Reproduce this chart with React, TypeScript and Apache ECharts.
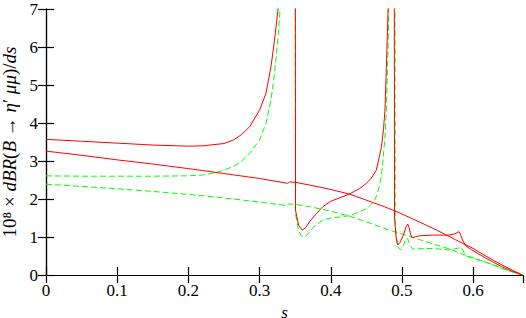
import React, { useEffect, useRef } from "react";
import * as echarts from "echarts";

// Resonant (upper) solid red curve
const resRedS = [0, 0.05, 0.1, 0.15, 0.2, 0.22, 0.25, 0.263, 0.275, 0.286, 0.3, 0.309, 0.316, 0.321, 0.326, 0.332, 0.338, 0.349, 0.3505, 0.355, 0.36, 0.365, 0.37, 0.38, 0.389, 0.4, 0.415, 0.426, 0.44, 0.45, 0.457, 0.464, 0.468, 0.471, 0.474, 0.476, 0.478, 0.4805, 0.484, 0.4885, 0.4895, 0.492, 0.494, 0.497, 0.502, 0.506, 0.508, 0.51, 0.512, 0.514, 0.518, 0.524, 0.543, 0.566, 0.574, 0.578, 0.58, 0.582, 0.585, 0.59, 0.598, 0.608, 0.618, 0.63, 0.64, 0.655, 0.669];
const resRedV = [3.57, 3.52, 3.47, 3.42, 3.39, 3.4, 3.46, 3.55, 3.7, 3.9, 4.34, 4.78, 5.48, 6.18, 7.0, 9, 16, 30, 1.7, 1.3, 1.18, 1.25, 1.4, 1.62, 1.8, 1.94, 2.05, 2.13, 2.27, 2.41, 2.55, 2.76, 3.1, 3.35, 3.82, 4.3, 5.4, 7.0, 12, 30, 1.5, 0.95, 0.79, 0.85, 1.05, 1.28, 1.34, 1.25, 1.08, 0.98, 1.0, 1.03, 1.05, 1.05, 1.08, 1.12, 1.14, 1.08, 0.92, 0.76, 0.66, 0.55, 0.44, 0.32, 0.22, 0.1, 0];

// Resonant (upper) dashed green curve
const resGreenS = [0, 0.05, 0.1, 0.15, 0.2, 0.22, 0.24, 0.263, 0.275, 0.286, 0.3, 0.309, 0.316, 0.321, 0.326, 0.3295, 0.335, 0.349, 0.3505, 0.355, 0.359, 0.363, 0.368, 0.375, 0.389, 0.4, 0.415, 0.426, 0.44, 0.45, 0.456, 0.461, 0.465, 0.468, 0.471, 0.473, 0.476, 0.478, 0.4805, 0.482, 0.485, 0.489, 0.4905, 0.494, 0.498, 0.502, 0.506, 0.508, 0.511, 0.515, 0.524, 0.543, 0.566, 0.578, 0.583, 0.587, 0.59, 0.6, 0.622, 0.646, 0.669];
const resGreenV = [2.61, 2.6, 2.6, 2.6, 2.61, 2.63, 2.7, 2.85, 3.0, 3.2, 3.55, 3.99, 4.6, 5.3, 6.27, 7.2, 12, 30, 1.6, 1.15, 1.03, 1.0, 1.08, 1.25, 1.45, 1.5, 1.53, 1.56, 1.66, 1.75, 1.84, 1.95, 2.12, 2.32, 2.6, 2.94, 3.6, 4.3, 6.0, 7.5, 12, 30, 1.3, 0.75, 0.66, 0.78, 0.97, 0.95, 0.8, 0.68, 0.69, 0.7, 0.66, 0.7, 0.73, 0.6, 0.5, 0.44, 0.31, 0.13, 0];

// Non-resonant solid red curve
const nonResRedS = [0, 0.05, 0.1, 0.15, 0.2, 0.25, 0.3, 0.337, 0.3395, 0.342, 0.35, 0.375, 0.4, 0.426, 0.45, 0.475, 0.496, 0.524, 0.55, 0.575, 0.59, 0.6, 0.613, 0.63, 0.645, 0.657, 0.669];
const nonResRedV = [3.26, 3.15, 3.03, 2.92, 2.8, 2.67, 2.54, 2.42, 2.41, 2.45, 2.44, 2.35, 2.25, 2.13, 1.97, 1.8, 1.64, 1.4, 1.17, 0.93, 0.79, 0.7, 0.55, 0.37, 0.22, 0.11, 0];

// Non-resonant dashed green curve
const nonResGreenS = [0, 0.05, 0.1, 0.15, 0.2, 0.244, 0.3, 0.333, 0.338, 0.341, 0.35, 0.37, 0.4, 0.426, 0.45, 0.482, 0.5, 0.525, 0.55, 0.566, 0.585, 0.6, 0.622, 0.646, 0.669];
const nonResGreenV = [2.39, 2.33, 2.27, 2.2, 2.12, 2.04, 1.92, 1.84, 1.83, 1.87, 1.86, 1.8, 1.68, 1.55, 1.4, 1.18, 1.08, 0.93, 0.78, 0.69, 0.55, 0.45, 0.31, 0.14, 0];

const xTicks = [0, 0.1, 0.2, 0.3, 0.4, 0.5, 0.6];
const yTicks = [0, 1, 2, 3, 4, 5, 6, 7];

const zip = (s: number[], v: number[]) => s.map((x, i) => [x, v[i]]);

const FONT = "Liberation Serif";

export default function App() {
  const ref = useRef<HTMLDivElement>(null);
  useEffect(() => {
    if (!ref.current) return;
    const chart = echarts.init(ref.current, null, { renderer: "svg" });
    const axisLine = { show: true, lineStyle: { color: "#000", width: 1.2 } };
    const tick = { show: true, inside: true, length: 8, lineStyle: { color: "#000", width: 1.2 } };
    const line = (data: number[][], color: string, dashed: boolean) => ({
      type: "line",
      data,
      showSymbol: false,
      symbol: "none",
      clip: true,
      lineStyle: { color, width: 1, type: dashed ? [6, 3] : "solid" },
      z: dashed ? 2 : 3,
    });
    chart.setOption({
      animation: false,
      textStyle: { fontFamily: FONT },
      grid: { left: 46, right: 3, top: 9, bottom: 43, containLabel: false, outerBoundsMode: "none" },
      xAxis: [
        {
          type: "value",
          min: 0,
          max: 0.67,
          interval: 0.1,
          axisLine,
          axisTick: tick,
          splitLine: { show: false },
          axisLabel: {
            showMaxLabel: false,
            color: "#000",
            fontFamily: FONT,
            fontSize: 17,
            margin: 7,
            formatter: (v: number) => (xTicks.some((t) => Math.abs(t - v) < 1e-6) ? String(Math.round(v * 10) / 10) : ""),
          },
          name: "s",
          nameLocation: "middle",
          nameGap: 16,
          nameTextStyle: { color: "#000", fontFamily: FONT, fontSize: 17, fontStyle: "italic", lineHeight: 16 },
        },
        {
          type: "value",
          position: "top",
          min: 0,
          max: 0.67,
          interval: 0.1,
          axisLine,
          axisTick: tick,
          splitLine: { show: false },
          axisLabel: { show: false },
        },
      ],
      yAxis: [
        {
          type: "value",
          min: 0,
          max: 7,
          interval: 1,
          axisLine,
          axisTick: tick,
          splitLine: { show: false },
          axisLabel: {
            color: "#000",
            fontFamily: FONT,
            fontSize: 17,
            margin: 8,
            formatter: (v: number) => (yTicks.includes(v) ? String(v) : ""),
          },
          name: "{n|10⁸ × }{i|dBR}{n|(}{i|B}{n| → }{i|η}{n|′ }{i|μμ}{n|)/}{i|ds}",
          nameLocation: "middle",
          nameGap: 21,
          nameTextStyle: {
            color: "#000",
            fontFamily: FONT,
            fontSize: 19,
            rich: {
              n: { fontFamily: FONT, fontSize: 19, color: "#000" },
              i: { fontFamily: FONT, fontSize: 19, fontStyle: "italic", color: "#000" },
            },
          },
        },
        {
          type: "value",
          position: "right",
          min: 0,
          max: 7,
          interval: 1,
          axisLine,
          axisTick: tick,
          splitLine: { show: false },
          axisLabel: { show: false },
        },
      ],
      series: [
        line(zip(resGreenS, resGreenV), "#00ff00", true),
        line(zip(nonResGreenS, nonResGreenV), "#00ff00", true),
        line(zip(resRedS, resRedV), "#ff0000", false),
        line(zip(nonResRedS, nonResRedV), "#ff0000", false),
      ],
    });
    return () => chart.dispose();
  }, []);
  return <div ref={ref} style={{ width: 526, height: 318, position: "absolute", left: 0, top: 0 }} />;
}
